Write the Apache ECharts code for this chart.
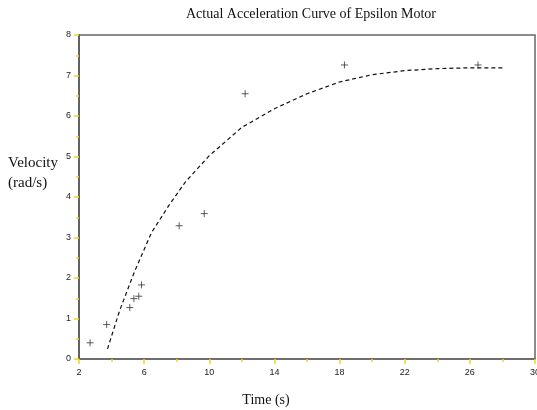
<!DOCTYPE html>
<html>
<head>
<meta charset="utf-8">
<script src="https://cdn.jsdelivr.net/npm/echarts@6/dist/echarts.min.js"></script>
<style>
  html, body { margin: 0; padding: 0; background: #fff; }
  #chart { width: 537px; height: 410px; }
</style>
</head>
<body>
<div id="chart"></div>
<script>
// measured points (time, velocity)
const measTime = [2.68, 3.70, 5.12, 5.37, 5.67, 5.84, 8.15, 9.69, 12.2, 18.3, 26.5];
const measVel = [0.40, 0.85, 1.27, 1.49, 1.55, 1.83, 3.29, 3.59, 6.55, 7.26, 7.26];

// fitted curve
const curveTime = [3.75, 4.5, 5.4, 6.45, 7.5, 8.55, 10, 12, 14, 16, 18, 20, 22, 24, 26, 28];
const curveVel = [0.25, 1.2, 2.15, 3.12, 3.78, 4.38, 5.02, 5.72, 6.18, 6.55, 6.84, 7.02, 7.12, 7.17, 7.19, 7.19];

const plusPath = 'path://M5,0L5,10M0,5L10,5';
const tickYellow = '#f2d51f';

const chart = echarts.init(document.getElementById('chart'));

const option = {
    backgroundColor: '#fff',
    animation: false,
    title: {
        text: 'Actual Acceleration Curve of Epsilon Motor',
        left: 306,
        textAlign: 'center',
        top: 2,
        textStyle: {
            fontFamily: 'Liberation Serif',
            fontWeight: 'normal',
            fontSize: 14,
            color: '#111',
        },
    },
    graphic: [
        {
            type: 'text',
            left: 8,
            top: 153,
            style: {
                text: 'Velocity\n(rad/s)',
                font: '15px "Liberation Serif"',
                fill: '#111',
                lineHeight: 20,
            },
        },
        {
            type: 'text',
            x: 266,
            y: 400,
            style: {
                text: 'Time (s)',
                font: '14px "Liberation Serif"',
                fill: '#111',
                align: 'center',
                verticalAlign: 'middle',
            },
        },
    ],
    grid: {
        left: 79,
        right: 2,
        top: 35,
        bottom: 51,
        outerBoundsMode: 'none',
        show: true,
        borderColor: '#666',
        borderWidth: 1.5,
    },
    xAxis: {
        type: 'value',
        min: 2,
        max: 30,
        interval: 4,
        axisLine: { lineStyle: { color: '#666', width: 1.5 } },
        axisTick: { length: 5, lineStyle: { color: tickYellow, width: 1.5 } },
        minorTick: { show: true, splitNumber: 2, length: 3, lineStyle: { color: tickYellow, width: 1.5 } },
        axisLabel: {
            margin: 9,
            fontFamily: 'Liberation Sans',
            fontSize: 9,
            color: '#222',
        },
        splitLine: { show: false },
    },
    yAxis: {
        type: 'value',
        min: 0,
        max: 8,
        interval: 1,
        axisLine: { show: true, lineStyle: { color: '#555', width: 1.5 } },
        axisTick: { show: true, length: 5, lineStyle: { color: tickYellow, width: 1.5 } },
        minorTick: { show: true, splitNumber: 2, length: 3, lineStyle: { color: tickYellow, width: 1.5 } },
        axisLabel: {
            margin: 8,
            fontFamily: 'Liberation Sans',
            fontSize: 9,
            color: '#222',
        },
        splitLine: { show: false },
    },
    series: [
        {
            type: 'line',
            data: curveTime.map((t, i) => [t, curveVel[i]]),
            showSymbol: false,
            symbol: 'none',
            lineStyle: { color: '#111', width: 1.2, type: [4, 3] },
        },
        {
            type: 'scatter',
            data: measTime.map((t, i) => [t, measVel[i]]),
            symbol: plusPath,
            symbolSize: 7,
            itemStyle: { color: 'none', borderColor: '#333', borderWidth: 1 },
        },
    ],
};

chart.setOption(option);
</script>
</body>
</html>
